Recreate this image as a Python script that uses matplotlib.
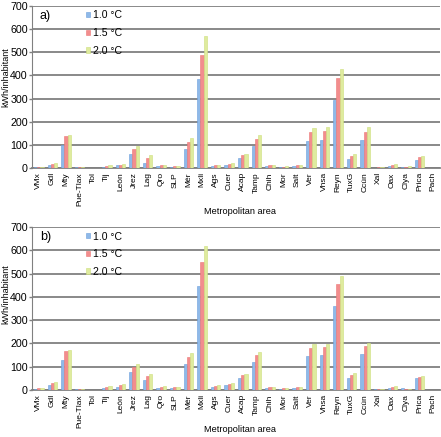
import matplotlib
matplotlib.use("Agg")
import matplotlib.pyplot as plt
import numpy as np

categories = ["VMx", "Gdl", "Mty", "Pue-Tlax", "Tol", "Tij", "León", "Jrez", "Lag", "Qro",
              "SLP", "Mér", "Mxli", "Ags", "Cuer", "Acap", "Tamp", "Chih", "Mor", "Salt",
              "Ver", "Vhsa", "Reyn", "TuxG", "Ccún", "Xal", "Oax", "Clya", "Prica", "Pach"]
series_labels = ["1.0 °C", "1.5 °C", "2.0 °C"]

a_10 = [3, 13, 100, 3, 2, 5, 11, 60, 23, 8, 6, 82, 383, 8, 12, 42, 95, 7, 4, 8,
        118, 121, 295, 37, 122, 2, 8, 5, 33, 1]
a_15 = [4, 19, 137, 4, 2, 8, 15, 82, 45, 11, 8, 111, 490, 12, 19, 56, 125, 11, 6, 12,
        154, 158, 390, 52, 157, 3, 13, 6, 46, 1]
a_20 = [5, 23, 143, 4, 2, 11, 19, 97, 55, 12, 9, 128, 569, 15, 23, 60, 141, 12, 7, 13,
        171, 176, 427, 60, 176, 3, 17, 7, 52, 1]

b_10 = [4, 23, 129, 5, 2, 8, 14, 76, 43, 9, 9, 110, 448, 12, 20, 50, 119, 8, 4, 8,
        146, 149, 359, 50, 155, 3, 9, 7, 53, 1]
b_15 = [7, 30, 168, 6, 2, 12, 20, 99, 62, 15, 11, 142, 551, 17, 27, 65, 151, 14, 8, 13,
        182, 184, 456, 63, 189, 4, 14, 6, 56, 1]
b_20 = [10, 34, 172, 5, 2, 16, 24, 112, 70, 18, 12, 161, 618, 21, 32, 67, 164, 14, 9, 15,
        198, 199, 489, 72, 202, 4, 19, 5, 62, 1]

colors = ["#8fb9e8", "#f28d8d", "#dfeb9e"]
edge_colors = ["#6c9fdc", "#ec7777", "#cddf7c"]

FONT = "Liberation Sans"
W, H = 441, 437
fig = plt.figure(figsize=(W / 100, H / 100), dpi=100)


def px(x, y):
    """pixel (from top-left) -> figure fraction"""
    return x / W, 1 - y / H


def make_panel(top, bottom, data, tag, xlabel_y, ylabel_y):
    ax = fig.add_axes([32 / W, 1 - bottom / H, 408 / W, (bottom - top) / H])
    x = np.arange(len(categories)) + 0.5
    w = 0.235
    offs = [-w, 0, w]
    for vals, c, ec, off, lab in zip(data, colors, edge_colors, offs, series_labels):
        ax.bar(x + off, vals, width=w, color=c, edgecolor=ec, linewidth=0.4,
               label=lab, zorder=3)
    ax.set_xlim(0, len(categories))
    ax.set_ylim(0, 700)
    ax.set_yticks(range(0, 701, 100))
    ax.yaxis.grid(True, color="#808080", linewidth=1.3, zorder=0)
    ax.set_axisbelow(True)
    ax.set_xticks(x)
    ax.set_xticklabels(categories, rotation=90, fontsize=6, family=FONT)
    for lbl in ax.get_yticklabels():
        lbl.set_fontsize(7.7)
        lbl.set_family(FONT)
    ax.tick_params(axis="x", length=0, pad=3)
    ax.tick_params(axis="y", length=2.5, width=1.0, color="#808080", pad=0.5)
    for s in ["top", "right"]:
        ax.spines[s].set_visible(False)
    ax.spines["left"].set_color("#808080")
    ax.spines["bottom"].set_color("#808080")
    ax.spines["bottom"].set_linewidth(1.3)

    fig.text(*px(5.5, ylabel_y), "kWh/inhabitant", rotation=90, fontsize=6.5,
             family=FONT, ha="center", va="center")
    fig.text(*px(240, xlabel_y), "Metropolitan area", fontsize=6.6,
             family=FONT, ha="center", va="center")
    fig.text(*px(40, top + 10), tag, fontsize=9, family=FONT,
             ha="left", va="center")

    ax.legend(loc="upper left",
              bbox_to_anchor=((86 - 32) / 408, 1 - 4.5 / (bottom - top)),
              frameon=False, prop={"family": FONT, "size": 7.6},
              handlelength=0.4, handleheight=0.4, handletextpad=0.25,
              labelspacing=0.72, borderaxespad=0, borderpad=0)
    return ax


make_panel(6, 168, [a_10, a_15, a_20], "a)", 211, 77)
make_panel(227, 390, [b_10, b_15, b_20], "b)", 430, 294)

fig.savefig("out.png", dpi=100)
